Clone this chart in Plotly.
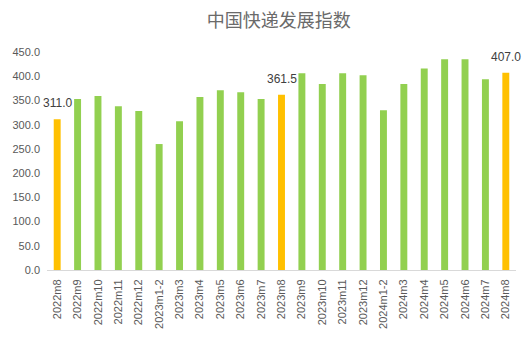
import plotly.graph_objects as go

months = ["2022m8", "2022m9", "2022m10", "2022m11", "2022m12", "2023m1-2", "2023m3",
          "2023m4", "2023m5", "2023m6", "2023m7", "2023m8", "2023m9", "2023m10",
          "2023m11", "2023m12", "2024m1-2", "2024m3", "2024m4", "2024m5", "2024m6",
          "2024m7", "2024m8"]
index_values = [311.0, 353.0, 359.0, 338.0, 328.0, 260.0, 307.0,
                357.0, 371.0, 367.0, 353.0, 361.5, 406.0, 384.0,
                406.0, 402.0, 330.0, 384.0, 416.0, 435.0, 435.0,
                394.0, 407.0]
y_ticks = [0, 50, 100, 150, 200, 250, 300, 350, 400, 450]

GREEN = "#92D050"
ORANGE = "#FFC000"
TEXT = "#595959"
FONT = "Liberation Sans, Arial, sans-serif"

# August of each year is highlighted and labelled with its value
highlight = [m.endswith("m8") for m in months]
colors = [ORANGE if h else GREEN for h in highlight]

fig = go.Figure(
    go.Bar(
        x=months,
        y=index_values,
        marker=dict(color=colors, line=dict(width=0)),
        width=0.34,
        hoverinfo="x+y",
    )
)

# value labels floating a little above the highlighted bars
for m, v, h in zip(months, index_values, highlight):
    if h:
        fig.add_annotation(
            x=m, y=v, text=f"{v:.1f}", showarrow=False,
            yanchor="bottom", yshift=7,
            font=dict(family=FONT, size=12, color="#404040"),
        )

fig.update_layout(
    width=531,
    height=341,
    margin=dict(l=45, r=15, t=52, b=70),
    paper_bgcolor="white",
    plot_bgcolor="white",
    showlegend=False,
    title=dict(
        text="中国快递发展指数",
        x=0.525,
        xanchor="center",
        y=0.94,
        yanchor="middle",
        font=dict(family="Noto Sans CJK SC, sans-serif", size=18, color="#6a6a6a"),
    ),
    xaxis=dict(
        type="category",
        range=[-0.5, len(months) - 0.5],
        tickangle=-90,
        tickfont=dict(family=FONT, size=11, color=TEXT),
        showline=True,
        linecolor="#D9D9D9",
        linewidth=1,
        ticks="",
        showgrid=False,
        ticklabelstandoff=4,
    ),
    yaxis=dict(
        range=[0, 450],
        tickvals=y_ticks,
        ticktext=[f"{t:.1f}" for t in y_ticks],
        tickfont=dict(family=FONT, size=11, color=TEXT),
        showgrid=False,
        zeroline=False,
        showline=False,
        ticks="",
        ticklabelstandoff=6,
    ),
)

fig.write_html("out.html")
